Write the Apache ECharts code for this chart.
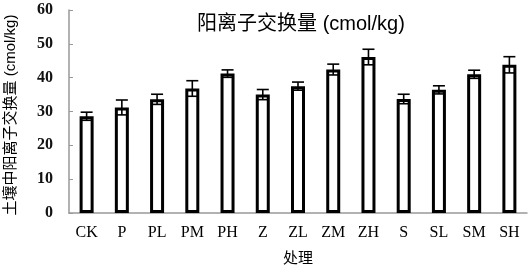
<!DOCTYPE html>
<html>
<head>
<meta charset="utf-8">
<script src="https://cdn.jsdelivr.net/npm/echarts@6/dist/echarts.min.js"></script>
<style>
html, body { margin: 0; padding: 0; background: #fff; }
#main { width: 530px; height: 266px; }
</style>
</head>
<body>
<div id="main"></div>
<script>
// 处理
var categories = ['CK', 'P', 'PL', 'PM', 'PH', 'Z', 'ZL', 'ZM', 'ZH', 'S', 'SL', 'SM', 'SH'];
// 阳离子交换量均值
var values = [28.6, 31.2, 33.6, 36.8, 41.2, 35.0, 37.5, 42.4, 46.1, 33.7, 36.4, 41.0, 43.8];
// 标准差
var errors = [1.2, 2.2, 1.5, 2.3, 1.1, 1.5, 1.2, 1.6, 2.3, 1.4, 1.2, 1.2, 2.4];
var yTicks = [0, 10, 20, 30, 40, 50, 60];

var errData = [];
for (var i = 0; i < categories.length; i++) {
    errData.push([i, values[i] - errors[i], values[i] + errors[i]]);
}

function renderErr(params, api) {
    var x = api.value(0);
    var lo = api.coord([x, api.value(1)]);
    var hi = api.coord([x, api.value(2)]);
    var half = 6;
    var style = { stroke: '#000', lineWidth: 1.6, fill: null };
    return {
        type: 'group',
        children: [
            { type: 'line', shape: { x1: lo[0], y1: lo[1], x2: hi[0], y2: hi[1] }, style: style },
            { type: 'line', shape: { x1: hi[0] - half, y1: hi[1], x2: hi[0] + half, y2: hi[1] }, style: style },
            { type: 'line', shape: { x1: lo[0] - half, y1: lo[1], x2: lo[0] + half, y2: lo[1] }, style: style }
        ]
    };
}

var myChart = echarts.init(document.getElementById('main'));
var option = {
    backgroundColor: '#fff',
    animation: false,
    title: {
        text: '阳离子交换量 (cmol/kg)',
        left: 296,
        textAlign: 'center',
        top: 9,
        textStyle: { fontFamily: 'Liberation Sans, Noto Sans CJK SC', fontWeight: 'normal', fontSize: 20, color: '#000' }
    },
    grid: { left: 69, right: 3, top: 10, bottom: 53, outerBoundsMode: 'none' },
    xAxis: {
        type: 'category',
        data: categories,
        name: '处理',
        nameLocation: 'middle',
        nameGap: 37,
        nameTextStyle: { fontFamily: 'Noto Sans CJK SC', fontSize: 15, color: '#000' },
        axisLine: { lineStyle: { color: '#999', width: 1.5 } },
        axisTick: { inside: true, length: 3, lineStyle: { color: '#999' } },
        axisLabel: { margin: 12, fontFamily: 'Liberation Serif', fontSize: 16, color: '#000' }
    },
    yAxis: {
        type: 'value',
        min: yTicks[0],
        max: yTicks[yTicks.length - 1],
        interval: 10,
        axisLine: { show: true, lineStyle: { color: '#999', width: 1.5 } },
        axisTick: { show: true, inside: true, length: 4, lineStyle: { color: '#999' } },
        splitLine: { show: false },
        axisLabel: { margin: 16, fontFamily: 'Liberation Serif', fontSize: 16, fontWeight: 'bold', color: '#111' }
    },
    graphic: [{
        type: 'text',
        x: 11,
        y: 115,
        rotation: Math.PI / 2,
        style: {
            text: '土壤中阳离子交换量 (cmol/kg)',
            fontFamily: 'Liberation Sans, Noto Sans CJK SC',
            fontSize: 15,
            fill: '#000',
            align: 'center',
            verticalAlign: 'middle'
        }
    }],
    series: [{
        type: 'bar',
        data: values,
        barWidth: 14,
        itemStyle: { color: '#fff', borderColor: '#000', borderWidth: 3 }
    }, {
        type: 'custom',
        data: errData,
        renderItem: renderErr,
        encode: { x: 0, y: [1, 2] },
        z: 10
    }]
};
myChart.setOption(option);
window.onresize = myChart.resize;
</script>
</body>
</html>
